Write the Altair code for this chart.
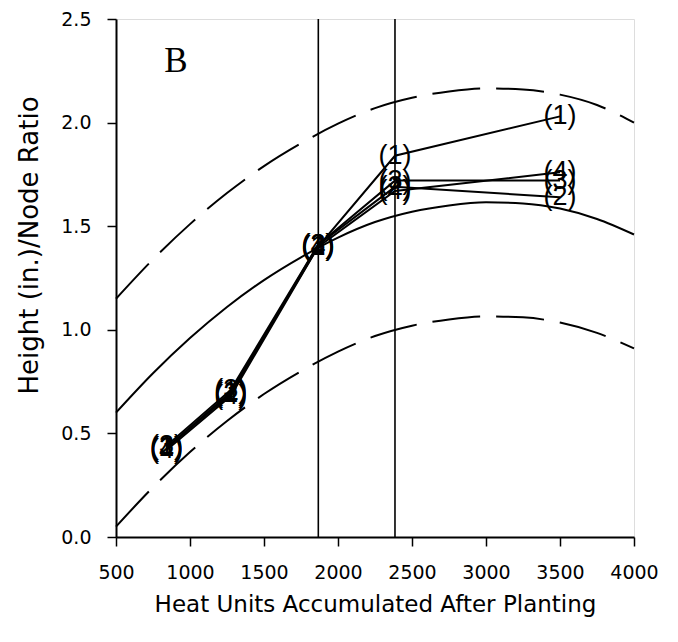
import altair as alt
import pandas as pd

# ---- data ----
heat_units = [842, 1275, 1865, 2385, 3500]
series_1 = [0.43, 0.70, 1.40, 1.84, 2.03]
series_2 = [0.43, 0.69, 1.41, 1.69, 1.64]
series_3 = [0.44, 0.71, 1.41, 1.72, 1.72]
series_4 = [0.42, 0.68, 1.40, 1.67, 1.76]
series_labels = ["(1)", "(2)", "(3)", "(4)"]

curve_x = [500, 750, 1000, 1250, 1500, 1750, 2000, 2250, 2500, 2750, 3000, 3250, 3500, 3750, 4000]
curve_fit = [0.60, 0.79, 0.96, 1.11, 1.24, 1.35, 1.445, 1.52, 1.57, 1.60, 1.615, 1.61, 1.585, 1.535, 1.46]
curve_upper = [1.15, 1.34, 1.51, 1.66, 1.79, 1.90, 1.995, 2.07, 2.12, 2.15, 2.165, 2.16, 2.135, 2.085, 2.00]
curve_lower = [0.05, 0.24, 0.41, 0.56, 0.69, 0.80, 0.895, 0.97, 1.02, 1.05, 1.065, 1.06, 1.035, 0.985, 0.91]

vline_x = [1867, 2385]
panel_label = "B"

x_ticks = [500, 1000, 1500, 2000, 2500, 3000, 3500, 4000]
y_ticks = [0.0, 0.5, 1.0, 1.5, 2.0, 2.5]

# ---- tables ----
rows = []
for lab, vals in zip(series_labels, [series_1, series_2, series_3, series_4]):
    for h, v in zip(heat_units, vals):
        rows.append({"hu": h, "ratio": v, "series": lab})
pts = pd.DataFrame(rows)

curves = pd.DataFrame({"hu": curve_x, "fit": curve_fit, "upper": curve_upper, "lower": curve_lower})
curves_long = curves.melt(id_vars="hu", var_name="curve", value_name="ratio")
vlines = pd.DataFrame({"hu": vline_x})

FONT = "Liberation Sans"
AXFONT = "DejaVu Sans"

xscale = alt.Scale(domain=[500, 4000], nice=False, zero=False)
yscale = alt.Scale(domain=[0, 2.5], nice=False)

xaxis = alt.Axis(values=x_ticks, format="d", title="Heat Units Accumulated After Planting", grid=False,
                 labelFont=AXFONT, labelFontSize=19, labelColor="black", labelPadding=17,
                 titleFont=AXFONT, titleFontSize=23, titleFontWeight="normal", titleColor="black",
                 titlePadding=11, tickColor="black", tickSize=9, tickWidth=1.5,
                 domainColor="black", domainWidth=2, labelFlush=False)
yaxis = alt.Axis(values=y_ticks, format=".1f", title="Height (in.)/Node Ratio", grid=False,
                 labelFont=AXFONT, labelFontSize=19, labelColor="black", labelPadding=16,
                 titleFont=AXFONT, titleFontSize=26, titleFontWeight="normal", titleColor="black",
                 titlePadding=18, titleY=226, tickColor="black", tickSize=9, tickWidth=1.5,
                 domainColor="black", domainWidth=2, labelFlush=False)

X = alt.X("hu:Q", scale=xscale, axis=xaxis)
Y = alt.Y("ratio:Q", scale=yscale, axis=yaxis)

fit_line = alt.Chart(curves_long).transform_filter(alt.datum.curve == "fit").mark_line(
    color="black", strokeWidth=2, interpolate="monotone").encode(x=X, y=Y)

band_lines = alt.Chart(curves_long).transform_filter(alt.datum.curve != "fit").mark_line(
    color="black", strokeWidth=2, strokeDash=[48, 16], interpolate="monotone").encode(
    x=X, y=Y, detail="curve:N")

rules = alt.Chart(vlines).mark_rule(color="black", strokeWidth=1.6).encode(x=alt.X("hu:Q", scale=xscale))

series_lines = alt.Chart(pts).mark_line(color="black", strokeWidth=2).encode(
    x=X, y=Y, detail="series:N")

series_text = alt.Chart(pts).mark_text(font=FONT, fontSize=27, color="black",
                                       align="center", baseline="middle").encode(
    x=X, y=Y, text="series:N")

b_text = alt.Chart(pd.DataFrame({"t": [panel_label]})).mark_text(
    font="Liberation Serif", fontSize=35, color="black", align="center", baseline="alphabetic").encode(
    x=alt.value(60), y=alt.value(53), text="t:N")

chart = alt.layer(band_lines, fit_line, rules, series_lines, series_text, b_text).properties(
    width=518, height=518, autosize="none",
    padding={"left": 108, "top": 11, "right": 30, "bottom": 90},
).configure_view(stroke="black", strokeWidth=2).configure(background="white")

chart.save("out.html", embed_options={"renderer": "svg", "actions": False})
